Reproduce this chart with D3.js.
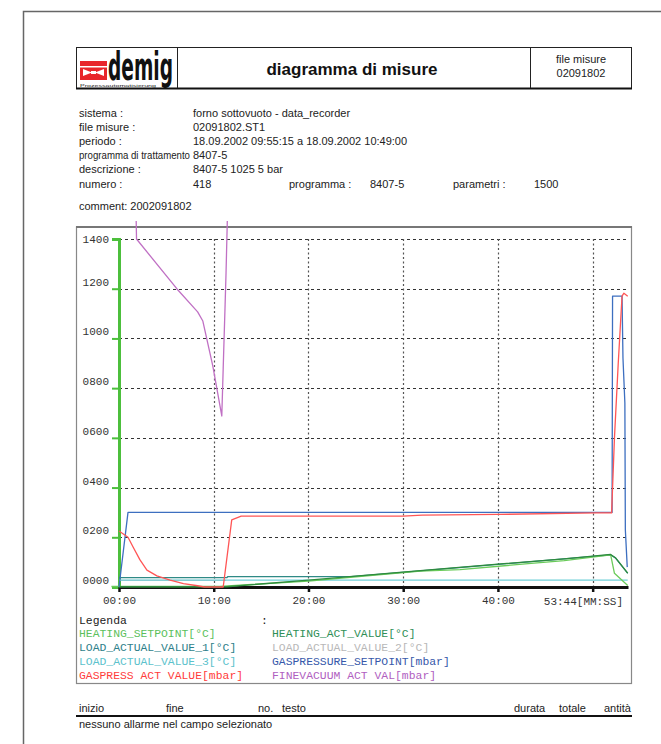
<!DOCTYPE html>
<html>
<head>
<meta charset="utf-8">
<script src="https://cdn.jsdelivr.net/npm/d3@7"></script>
<style>
  body { margin: 0; background: #fff; }
  svg { display: block; }
</style>
</head>
<body>
<svg id="page" width="661" height="744"></svg>
<script>
// ---- recorded channels: [minutes since start, value] ----
const heatingSetpoint = [[-0.8, 2], [0, 2], [10.6, 2], [20, 24], [31.8, 64], [36, 70], [43.5, 95], [47, 106], [51.9, 129], [52.3, 55], [53.7, 6]];
const heatingAct = [[0, 1], [11.4, 1], [20, 28], [31.8, 66], [40, 92], [47, 113], [51.9, 131], [52.4, 118], [53.7, 56]];
const loadActual1 = [[0, 38], [11.4, 38], [11.5, 42], [24.5, 42], [31.8, 65], [40, 91], [51.9, 129], [52.4, 117], [53.7, 55]];
const loadActual2 = [[0, 27], [11.3, 27]];
const loadActual3 = [[0, 28], [53.7, 28]];
const gasSetpoint = [[0, 0], [0.95, 300], [52.05, 300], [52.1, 1170], [53.1, 1170], [53.2, 920], [53.4, 740], [53.45, 230], [53.65, 80]];
const gasActual = [[0, 225], [0.95, 200], [1.5, 160], [2.2, 110], [2.95, 68], [4, 45], [5.4, 28], [6.8, 14], [8.3, 5], [9, 0], [11.0, 0], [11.9, 270], [12.9, 285], [30, 285], [32, 289], [40, 292], [50.4, 298], [52.0, 298], [52.3, 600], [52.7, 900], [53.1, 1170], [53.3, 1182], [53.7, 1170]];
const fineVacuum = [[1.8, 1500], [1.85, 1400], [6.1, 1200], [8.3, 1107], [8.85, 1070], [9.9, 890], [10.85, 688], [11.0, 881], [11.2, 1135], [11.3, 1264], [11.45, 1500]];

const yTicks = [0, 200, 400, 600, 800, 1000, 1200, 1400];
const xTicks = [0, 10, 20, 30, 40, 50];
const xTickLabels = ["00:00", "10:00", "20:00", "30:00", "40:00", ""];
const endLabel = "53:44[MM:SS]";

const legendNames = [
  "HEATING_SETPOINT[°C]", "HEATING_ACT_VALUE[°C]",
  "LOAD_ACTUAL_VALUE_1[°C]", "LOAD_ACTUAL_VALUE_2[°C]",
  "LOAD_ACTUAL_VALUE_3[°C]", "GASPRESSURE_SETPOINT[mbar]",
  "GASPRESS ACT VALUE[mbar]", "FINEVACUUM ACT VAL[mbar]"
];
const legendColors = ["#5cbf5c", "#2f8f57", "#2e7f8a", "#b8b8b8", "#5cc2cc", "#3658aa", "#ff3b3b", "#b060bf"];

const infoLabels = ["sistema :", "file misure :", "periodo :", "programma di trattamento", "descrizione :", "numero :"];
const infoValues = ["forno sottovuoto - data_recorder", "02091802.ST1", "18.09.2002 09:55:15 a 18.09.2002 10:49:00", "8407-5", "8407-5 1025 5 bar", "418"];

const alarmHeaders = [["inizio", 79], ["fine", 166], ["no.", 258], ["testo", 282], ["durata", 514], ["totale", 559], ["antità", 604]];

// ---- line styling per channel (drawing order) ----
const series = [
  { data: loadActual2, color: "#c4c4c4" },
  { data: loadActual3, color: "#6fd0d8" },
  { data: loadActual1, color: "#2f8a86" },
  { data: heatingSetpoint, color: "#6acb5a" },
  { data: heatingAct, color: "#2e8b3e" },
  { data: gasSetpoint, color: "#3d6fc0" },
  { data: gasActual, color: "#ff5555" },
  { data: fineVacuum, color: "#c070c4" }
];

const svg = d3.select("#page");
const sans = "'Liberation Sans', Arial, sans-serif";
const mono = "'Liberation Mono', 'Courier New', monospace";

svg.append("rect").attr("width", 661).attr("height", 744).attr("fill", "#fff");

// page edge
svg.append("path").attr("d", "M23.5,744 V11.5 H661").attr("fill", "none").attr("stroke", "#666").attr("stroke-width", 1.5);

// ---- header box ----
const hdr = svg.append("g");
hdr.append("rect").attr("x", 76.5).attr("y", 47.5).attr("width", 555).attr("height", 41)
  .attr("fill", "none").attr("stroke", "#222").attr("stroke-width", 1);
hdr.append("line").attr("x1", 76).attr("x2", 632).attr("y1", 88.5).attr("y2", 88.5).attr("stroke", "#111").attr("stroke-width", 2);
hdr.append("line").attr("x1", 177.5).attr("x2", 177.5).attr("y1", 47).attr("y2", 88).attr("stroke", "#222");
hdr.append("line").attr("x1", 530.5).attr("x2", 530.5).attr("y1", 47).attr("y2", 88).attr("stroke", "#222");

// logo mark
const logo = hdr.append("g");
logo.append("rect").attr("x", 80).attr("y", 61).attr("width", 27).attr("height", 19).attr("fill", "#e8262b");
logo.append("rect").attr("x", 80).attr("y", 66).attr("width", 27).attr("height", 1.5).attr("fill", "#fff");
logo.append("path").attr("d", "M83,69 L92,72.5 L83,76 Z M104,69 L95,72.5 L104,76 Z").attr("fill", "#fff");
logo.append("rect").attr("x", 91).attr("y", 71).attr("width", 5).attr("height", 3).attr("fill", "#fff");
logo.append("text").attr("x", 108).attr("y", 80).attr("font-family", "'DejaVu Sans Condensed', 'Liberation Sans Narrow', sans-serif")
  .attr("font-weight", "bold").attr("font-size", 32)
  .attr("fill", "#111")
  .attr("transform", "translate(108,80) scale(1,1.2) translate(-108,-80)")
  .attr("textLength", 65).attr("lengthAdjust", "spacingAndGlyphs").text("demig");
logo.append("text").attr("x", 80).attr("y", 86.5).attr("font-family", sans).attr("font-size", 4.2).attr("fill", "#222")
  .attr("textLength", 76).attr("lengthAdjust", "spacingAndGlyphs").text("Prozessautomatisierung");

hdr.append("text").attr("x", 352).attr("y", 75).attr("text-anchor", "middle")
  .attr("font-family", sans).attr("font-weight", "bold").attr("font-size", 17).attr("fill", "#111")
  .text("diagramma di misure");
hdr.append("text").attr("x", 581).attr("y", 63).attr("text-anchor", "middle")
  .attr("font-family", sans).attr("font-size", 11).attr("fill", "#222").text("file misure");
hdr.append("text").attr("x", 581).attr("y", 77).attr("text-anchor", "middle")
  .attr("font-family", sans).attr("font-size", 11).attr("fill", "#222").text("02091802");

// ---- run information ----
const info = svg.append("g").attr("font-family", sans).attr("font-size", 11).attr("fill", "#222");
infoLabels.forEach((t, i) => {
  const lbl = info.append("text").attr("x", 79).attr("y", 117 + i * 14.1).text(t);
  if (t.length > 20) lbl.attr("font-size", 10).attr("textLength", 111).attr("lengthAdjust", "spacingAndGlyphs");
  info.append("text").attr("x", 193).attr("y", 117 + i * 14.1).text(infoValues[i]);
});
info.append("text").attr("x", 289).attr("y", 187.5).text("programma :");
info.append("text").attr("x", 370).attr("y", 187.5).text("8407-5");
info.append("text").attr("x", 453).attr("y", 187.5).text("parametri :");
info.append("text").attr("x", 534).attr("y", 187.5).text("1500");
info.append("text").attr("x", 79).attr("y", 210).text("comment: 2002091802");

// ---- chart frame ----
svg.append("rect").attr("x", 76.5).attr("y", 227).attr("width", 555).attr("height", 456.5)
  .attr("fill", "none").attr("stroke", "#888").attr("stroke-width", 1.2);
svg.append("line").attr("x1", 76).attr("x2", 632).attr("y1", 227).attr("y2", 227).attr("stroke", "#777").attr("stroke-width", 2);

// ---- scales ----
const x = d3.scaleLinear().domain([0, 53.73]).range([119, 628]);
const y = d3.scaleLinear().domain([0, 1400]).range([587, 239]);

// grid
const grid = svg.append("g");
grid.selectAll("line.h").data(yTicks.filter(v => v > 0)).join("line")
  .attr("x1", x(0)).attr("x2", 628).attr("y1", d => Math.round(y(d)) + 0.5).attr("y2", d => Math.round(y(d)) + 0.5)
  .attr("stroke", "#333").attr("stroke-width", 1).attr("stroke-dasharray", "3,3");
grid.selectAll("line.v").data(xTicks.filter(v => v > 0)).join("line")
  .attr("x1", d => Math.round(x(d)) + 0.5).attr("x2", d => Math.round(x(d)) + 0.5).attr("y1", y(1400)).attr("y2", y(0))
  .attr("stroke", "#555").attr("stroke-width", 1.2).attr("stroke-dasharray", "2,2.5");

// y axis (green)
const yAxis = svg.append("g").attr("transform", `translate(${x(0)},0)`)
  .call(d3.axisLeft(y).tickValues(yTicks).tickFormat(d3.format("04d")).tickSize(7).tickPadding(3));
yAxis.select(".domain").attr("stroke", "#4cbf3c").attr("stroke-width", 3);
yAxis.selectAll(".tick line").attr("stroke", "#4cbf3c").attr("stroke-width", 2);
yAxis.selectAll(".tick text").attr("font-family", mono).attr("font-size", 11).attr("fill", "#333")
  .attr("y", d => d === 1400 ? 0 : -7);

// x axis (black)
const xAxis = svg.append("g").attr("transform", `translate(0,${y(0)})`)
  .call(d3.axisBottom(x).tickValues(xTicks).tickFormat((d, i) => xTickLabels[i]).tickSize(5).tickSizeOuter(0).tickPadding(4));
xAxis.select(".domain").attr("stroke", "#111").attr("stroke-width", 3);
xAxis.selectAll(".tick line").attr("stroke", "#111").attr("stroke-width", 2.5);
xAxis.selectAll(".tick text").attr("font-family", mono).attr("font-size", 11).attr("fill", "#333");
svg.append("text").attr("x", 623).attr("y", 605).attr("text-anchor", "end")
  .attr("font-family", mono).attr("font-size", 11).attr("fill", "#333").text(endLabel);

// ---- channel traces ----
svg.append("clipPath").attr("id", "plotClip").append("rect")
  .attr("x", 108).attr("y", 221).attr("width", 522).attr("height", 368);
const line = d3.line().x(d => x(d[0])).y(d => y(d[1]));
const traces = svg.append("g").attr("clip-path", "url(#plotClip)");
series.forEach(s => {
  traces.append("path").datum(s.data).attr("d", line)
    .attr("fill", "none").attr("stroke", s.color).attr("stroke-width", 1.3)
    .attr("stroke-linejoin", "round");
});

// ---- legend ----
const leg = svg.append("g").attr("font-family", mono).attr("font-size", 11.4);
leg.append("text").attr("x", 79).attr("y", 624).attr("fill", "#222").text("Legenda");
leg.append("text").attr("x", 261).attr("y", 624).attr("fill", "#222").text(":");
legendNames.forEach((n, i) => {
  leg.append("text").attr("x", i % 2 === 0 ? 79 : 272).attr("y", 637 + Math.floor(i / 2) * 14)
    .attr("fill", legendColors[i]).text(n);
});

// ---- alarm table ----
const alarms = svg.append("g").attr("font-family", sans).attr("font-size", 11).attr("fill", "#222");
alarmHeaders.forEach(([t, px]) => alarms.append("text").attr("x", px).attr("y", 712).text(t));
svg.append("line").attr("x1", 76).attr("x2", 632).attr("y1", 716).attr("y2", 716).attr("stroke", "#111").attr("stroke-width", 2);
alarms.append("text").attr("x", 79).attr("y", 728).text("nessuno allarme nel campo selezionato");
</script>
</body>
</html>
